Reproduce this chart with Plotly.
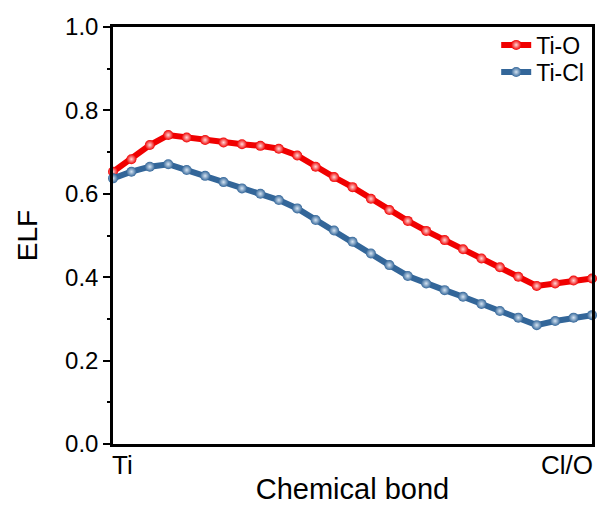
import plotly.graph_objects as go

idx = list(range(27))
ti_o = [0.653, 0.683, 0.717, 0.741, 0.735, 0.729, 0.723, 0.719, 0.715, 0.708,
        0.692, 0.665, 0.640, 0.616, 0.588, 0.561, 0.535, 0.511, 0.489, 0.467,
        0.445, 0.424, 0.401, 0.379, 0.385, 0.392, 0.397]
ti_cl = [0.637, 0.653, 0.665, 0.671, 0.657, 0.643, 0.628, 0.613, 0.600, 0.585,
         0.565, 0.537, 0.512, 0.485, 0.457, 0.429, 0.403, 0.385, 0.369, 0.353,
         0.336, 0.319, 0.303, 0.285, 0.295, 0.303, 0.309]
y_ticks = [0.0, 0.2, 0.4, 0.6, 0.8, 1.0]
end_labels = ["Ti", "Cl/O"]

FONT = "Liberation Sans, Arial, sans-serif"

fig = go.Figure()
fig.add_trace(go.Scatter(
    x=idx, y=ti_o, name="Ti-O", mode="lines+markers", legend="legend",
    line=dict(color="#f00000", width=6),
    marker=dict(size=10, color="#f00000",
                gradient=dict(type="radial", color="#ffd6d6")),
    cliponaxis=False))
fig.add_trace(go.Scatter(
    x=idx, y=ti_cl, name="Ti-Cl", mode="lines+markers", legend="legend2",
    line=dict(color="#336699", width=6),
    marker=dict(size=10, color="#336699",
                gradient=dict(type="radial", color="#d6e4f2")),
    cliponaxis=False))

leg_common = dict(xanchor="left", yanchor="middle", bgcolor="rgba(0,0,0,0)",
                  font=dict(size=23), itemwidth=30)

fig.update_layout(
    width=600, height=506,
    margin=dict(l=113, r=5, t=27, b=62),
    paper_bgcolor="white", plot_bgcolor="white",
    font=dict(family=FONT, color="black", size=23),
    showlegend=True,
    legend=dict(x=0.8, y=0.957, **leg_common),
    legend2=dict(x=0.8, y=0.892, **leg_common),
    xaxis=dict(range=[0, 26], showgrid=False, zeroline=False,
               showline=True, linecolor="black", linewidth=2.5, mirror=True,
               tickvals=[], showticklabels=False,
               title=dict(text="Chemical bond", font=dict(size=29), standoff=33)),
    yaxis=dict(range=[0, 1], showgrid=False, zeroline=False,
               showline=True, linecolor="black", linewidth=2.5, mirror=True,
               tickvals=y_ticks, tickformat=".1f", ticks="outside",
               ticklen=7, tickwidth=2, tickcolor="black",
               tickfont=dict(size=24),
               minor=dict(tickvals=[0.1, 0.3, 0.5, 0.7, 0.9], ticks="outside",
                          ticklen=3, tickwidth=2, tickcolor="black"),
               title=dict(text="ELF", font=dict(size=28), standoff=20)),
)

fig.add_annotation(x=0, y=0, xref="x", yref="paper", text=end_labels[0],
                   showarrow=False, xanchor="left", yanchor="top", yshift=-4,
                   xshift=-3, font=dict(size=26))
fig.add_annotation(x=26, y=0, xref="x", yref="paper", text=end_labels[1],
                   showarrow=False, xanchor="right", yanchor="top", yshift=-4,
                   xshift=3, font=dict(size=26))

fig.write_html(
    "out.html",
    config={"displayModeBar": False},
    post_script="document.body.style.margin='0';document.body.style.overflow='hidden';",
)
